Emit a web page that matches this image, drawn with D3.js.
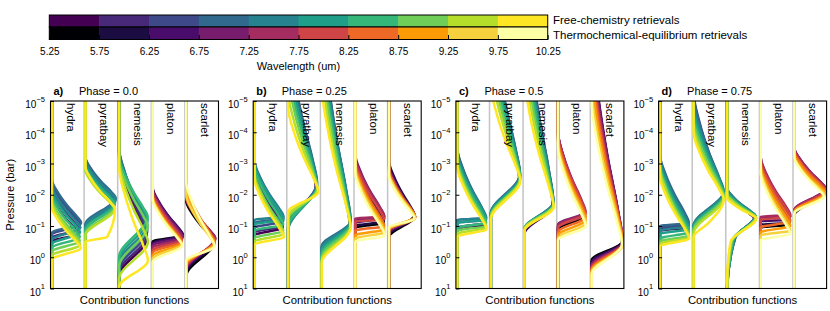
<!DOCTYPE html>
<html>
<head>
<meta charset="utf-8">
<script src="https://cdn.jsdelivr.net/npm/d3@7"></script>
<style>
  body { margin: 0; background: #fff; }
  text { font-family: "Liberation Sans", Arial, sans-serif; fill: #000; }
</style>
</head>
<body>
<div id="chart"></div>
<script>
/* Contribution functions, 4 phases x 5 retrieval codes */

const wavelengthTicks = [5.25, 5.75, 6.25, 6.75, 7.25, 7.75, 8.25, 8.75, 9.25, 9.75, 10.25];
const panelLetters = ["a)", "b)", "c)", "d)"];
const phaseLabels = ["Phase = 0.0", "Phase = 0.25", "Phase = 0.5", "Phase = 0.75"];
const codes = ["hydra", "pyratbay", "nemesis", "platon", "scarlet"];
const codeChemistry = ["free", "free", "free", "equilibrium", "equilibrium"];
const pressureTicks = [1e-5, 1e-4, 1e-3, 1e-2, 1e-1, 1, 10];

// one row per wavelength bin (5.5 ... 10.0 um):
// [log P where it leaves zero, log P of peak, peak height, log P where it is back to zero, (knee x, knee log P)]
const phase00 = [
  [ // hydra
    [-2.0, -0.75, 0.78, -0.5], [-2.2, -0.9, 0.8, -0.62], [-2.4, -1.05, 0.84, -0.72], [-2.5, -1.1, 0.87, -0.78],
    [-2.3, -0.95, 0.85, -0.55], [-2.15, -0.8, 0.84, -0.42], [-2.0, -0.65, 0.83, -0.3], [-1.85, -0.52, 0.83, -0.18],
    [-1.75, -0.4, 0.84, -0.05], [-1.6, -0.3, 0.86, 0.08]
  ],
  [ // pyratbay
    [-3.0, -1.75, 0.85, -0.9], [-3.1, -1.8, 0.86, -0.95], [-3.2, -1.85, 0.88, -1.0], [-3.2, -1.9, 0.9, -1.05],
    [-3.1, -1.85, 0.9, -1.0], [-3.0, -1.75, 0.88, -0.9], [-2.9, -1.7, 0.87, -0.85], [-2.8, -1.6, 0.86, -0.75],
    [-2.8, -1.55, 0.87, -0.7], [-2.9, -1.55, 0.88, -0.5, 0.65, -0.65]
  ],
  [ // nemesis
    [-3.3, -0.6, 0.82, 0.6], [-3.4, -0.7, 0.83, 0.5], [-3.5, -0.85, 0.84, 0.4], [-3.5, -0.95, 0.84, 0.3],
    [-3.4, -1.05, 0.84, 0.2], [-3.3, -1.2, 0.85, 0.1], [-3.2, -1.3, 0.85, 0.0], [-3.1, -1.0, 0.85, 0.3],
    [-3.0, -0.5, 0.86, 0.7], [-2.9, 0.1, 0.86, 0.95]
  ],
  [ // platon
    [-2.2, -0.7, 0.88, -0.5], [-2.2, -0.72, 0.9, -0.45], [-2.25, -0.7, 0.9, -0.42], [-2.2, -0.65, 0.9, -0.38],
    [-2.15, -0.6, 0.88, -0.3], [-2.1, -0.55, 0.87, -0.22], [-2.0, -0.5, 0.86, -0.15], [-1.95, -0.45, 0.86, -0.05],
    [-1.9, -0.42, 0.87, 0.05], [-1.85, -0.38, 0.88, 0.15]
  ],
  [ // scarlet
    [-1.8, -0.5, 0.84, 0.6], [-1.9, -0.55, 0.85, 0.5], [-2.0, -0.6, 0.86, 0.45], [-2.0, -0.62, 0.86, 0.4],
    [-1.95, -0.6, 0.86, 0.35], [-1.9, -0.55, 0.85, 0.3], [-2.3, -0.5, 0.84, 0.25], [-2.2, -0.45, 0.84, 0.2],
    [-2.0, -0.4, 0.84, 0.15], [-2.4, -0.35, 0.84, 0.1]
  ]
];

const phase025 = [
  [ // hydra
    [-2.8, -0.95, 0.84, -0.7], [-2.9, -1.0, 0.84, -0.8], [-3.0, -1.15, 0.85, -0.95], [-3.1, -1.25, 0.86, -1.1],
    [-3.05, -1.3, 0.86, -1.2], [-3.0, -1.2, 0.86, -1.05], [-2.9, -1.05, 0.85, -0.85], [-2.7, -0.85, 0.85, -0.6],
    [-2.6, -0.75, 0.86, -0.5], [-2.5, -0.65, 0.87, -0.4]
  ],
  [ // pyratbay
    [-7.0, -2.25, 0.82, -1.1], [-7.2, -2.3, 0.84, -1.0], [-7.3, -2.35, 0.85, -0.95], [-7.2, -2.4, 0.86, -0.9],
    [-6.9, -2.35, 0.86, -0.85], [-6.6, -2.3, 0.86, -0.9], [-6.2, -2.25, 0.86, -1.0], [-5.8, -2.2, 0.87, -1.2],
    [-5.3, -2.15, 0.88, -1.3], [-4.8, -2.1, 0.9, -1.45]
  ],
  [ // nemesis
    [-7.6, -1.0, 0.83, -0.1], [-7.7, -1.05, 0.84, -0.2], [-7.8, -1.1, 0.85, -0.3], [-7.7, -1.15, 0.86, -0.35],
    [-7.5, -1.15, 0.86, -0.3], [-7.2, -1.1, 0.85, -0.2], [-6.9, -1.05, 0.85, -0.1], [-6.5, -1.0, 0.85, 0.0],
    [-6.0, -0.95, 0.85, 0.1], [-5.5, -0.95, 0.86, 0.2]
  ],
  [ // platon
    [-3.0, -1.1, 0.84, -0.95], [-3.1, -1.15, 0.85, -1.0], [-3.2, -1.25, 0.86, -1.1], [-3.3, -1.3, 0.86, -1.2],
    [-3.2, -1.3, 0.86, -1.25], [-3.1, -1.2, 0.86, -1.15], [-3.0, -1.0, 0.86, -0.85], [-2.9, -0.9, 0.86, -0.7],
    [-2.8, -0.8, 0.87, -0.6], [-2.7, -0.7, 0.88, -0.5]
  ],
  [ // scarlet
    [-3.0, -1.3, 0.75, -0.65], [-3.1, -1.35, 0.76, -0.7], [-3.0, -1.3, 0.77, -0.75], [-2.9, -1.3, 0.77, -0.8],
    [-2.9, -1.3, 0.78, -0.82], [-2.8, -1.3, 0.78, -0.85], [-2.8, -1.3, 0.78, -0.88], [-2.7, -1.3, 0.78, -0.9],
    [-2.7, -1.25, 0.78, -0.9], [-2.6, -1.25, 0.76, -0.95]
  ]
];

const phase05 = [
  [ // hydra
    [-3.3, -1.05, 0.84, -0.85], [-3.4, -1.1, 0.84, -0.95], [-3.5, -1.2, 0.85, -1.1], [-3.5, -1.25, 0.86, -1.2],
    [-3.4, -1.25, 0.86, -1.2], [-3.3, -1.2, 0.86, -1.1], [-3.2, -1.1, 0.86, -0.95], [-3.1, -1.0, 0.86, -0.85],
    [-3.0, -0.95, 0.86, -0.75], [-2.9, -0.9, 0.87, -0.65]
  ],
  [ // pyratbay
    [-7.6, -2.55, 0.84, -1.25], [-7.9, -2.6, 0.85, -1.3], [-8.1, -2.65, 0.86, -1.35], [-8.0, -2.65, 0.87, -1.4],
    [-7.8, -2.6, 0.87, -1.4], [-7.4, -2.6, 0.87, -1.35], [-7.0, -2.55, 0.87, -1.3], [-6.6, -2.5, 0.87, -1.3],
    [-6.1, -2.5, 0.87, -1.25], [-5.5, -2.45, 0.88, -1.2]
  ],
  [ // nemesis
    [-8.0, -1.65, 0.84, -0.75], [-8.3, -1.7, 0.85, -0.8], [-8.5, -1.75, 0.86, -0.85], [-8.3, -1.75, 0.86, -0.9],
    [-8.0, -1.75, 0.86, -0.9], [-7.7, -1.7, 0.86, -0.9], [-7.3, -1.7, 0.86, -0.9], [-6.8, -1.65, 0.86, -0.9],
    [-6.3, -1.65, 0.86, -0.88], [-5.7, -1.6, 0.87, -0.85]
  ],
  [ // platon
    [-3.8, -1.3, 0.76, -0.9], [-3.9, -1.35, 0.77, -0.95], [-4.0, -1.4, 0.78, -1.0], [-4.0, -1.45, 0.8, -1.05],
    [-4.0, -1.45, 0.82, -1.0], [-3.9, -1.4, 0.82, -0.95], [-3.8, -1.3, 0.82, -0.8], [-3.7, -1.2, 0.82, -0.7],
    [-3.6, -1.1, 0.82, -0.6], [-3.5, -1.0, 0.82, -0.55]
  ],
  [ // scarlet
    [-7.0, -0.5, 0.9, 0.1], [-7.2, -0.5, 0.91, 0.15], [-7.3, -0.48, 0.92, 0.2], [-7.1, -0.47, 0.93, 0.25],
    [-6.8, -0.45, 0.93, 0.3], [-6.5, -0.45, 0.93, 0.35], [-6.2, -0.43, 0.93, 0.4], [-5.8, -0.42, 0.93, 0.45],
    [-5.4, -0.4, 0.92, 0.5], [-5.0, -0.4, 0.9, 0.55]
  ]
];

const phase075 = [
  [ // hydra
    [-3.0, -0.95, 0.83, -0.85], [-3.1, -1.0, 0.84, -0.9], [-3.2, -1.05, 0.85, -0.95], [-3.3, -1.1, 0.86, -1.0],
    [-3.2, -1.0, 0.86, -0.85], [-3.1, -0.9, 0.86, -0.75], [-3.0, -0.8, 0.86, -0.6], [-2.9, -0.7, 0.86, -0.5],
    [-2.8, -0.65, 0.86, -0.42], [-2.6, -0.6, 0.87, -0.35]
  ],
  [ // pyratbay
    [-5.0, -1.95, 0.86, -0.85], [-5.2, -2.0, 0.87, -0.9], [-5.3, -2.05, 0.88, -0.95], [-5.2, -2.1, 0.89, -1.0],
    [-5.0, -2.1, 0.9, -1.0], [-4.8, -2.05, 0.9, -0.95], [-4.6, -2.0, 0.9, -0.9], [-4.4, -1.95, 0.9, -0.85],
    [-4.2, -1.9, 0.9, -0.75], [-4.0, -1.85, 0.9, -0.65, 0.45, -1.1]
  ],
  [ // nemesis
    [-2.1, -1.25, 0.8, 0.9, 0.2, -0.6], [-2.1, -1.28, 0.82, 1.0, 0.22, -0.62], [-2.2, -1.3, 0.83, 1.1, 0.25, -0.65],
    [-2.2, -1.32, 0.84, 1.1, 0.25, -0.65], [-2.2, -1.32, 0.85, 1.2, 0.22, -0.6], [-2.1, -1.3, 0.85, 1.2, 0.2, -0.6],
    [-2.1, -1.3, 0.85, 1.1, 0.18, -0.55], [-2.0, -1.28, 0.86, 1.0, 0.15, -0.55], [-2.0, -1.27, 0.86, 0.9, 0.12, -0.5],
    [-1.9, -1.25, 0.87, 0.8, 0.1, -0.5]
  ],
  [ // platon
    [-2.9, -1.05, 0.86, -0.95], [-3.0, -1.1, 0.86, -1.05], [-3.1, -1.2, 0.87, -1.15], [-3.2, -1.3, 0.88, -1.25],
    [-3.2, -1.35, 0.88, -1.3], [-3.1, -1.3, 0.88, -1.2], [-3.0, -1.15, 0.88, -0.95], [-2.9, -1.0, 0.88, -0.8],
    [-2.8, -0.85, 0.88, -0.7], [-2.7, -0.75, 0.88, -0.55]
  ],
  [ // scarlet
    [-3.3, -2.1, 0.9, -1.35], [-3.4, -2.15, 0.91, -1.4], [-3.5, -2.2, 0.92, -1.45], [-3.5, -2.2, 0.93, -1.5],
    [-3.5, -2.2, 0.93, -1.5], [-3.4, -2.15, 0.93, -1.45], [-3.4, -2.1, 0.93, -1.45], [-3.3, -2.05, 0.92, -1.45],
    [-3.2, -2.0, 0.9, -1.4], [-3.2, -1.95, 0.88, -1.4]
  ]
];

const phases = [phase00, phase025, phase05, phase075];

const width = 830, height = 311;

const svg = d3.select("#chart")
  .append("svg")
  .attr("width", width)
  .attr("height", height);

/* colour bars */
const cbX = d3.scaleLinear().domain([5.25, 10.25]).range([49.3, 547.7]);
const cbRows = [
  { cmap: d3.interpolateViridis, y: 15, h: 12, label: "Free-chemistry retrievals", ly: 24 },
  { cmap: d3.interpolateInferno, y: 27, h: 12.5, label: "Thermochemical-equilibrium retrievals", ly: 38.5 }
];

cbRows.forEach(row => {
  svg.append("g").selectAll("rect")
    .data(d3.range(10))
    .join("rect")
    .attr("x", i => cbX(wavelengthTicks[i]))
    .attr("y", row.y)
    .attr("width", i => cbX(wavelengthTicks[i + 1]) - cbX(wavelengthTicks[i]) + 0.5)
    .attr("height", row.h)
    .attr("fill", i => row.cmap(i / 9));
  svg.append("rect")
    .attr("x", cbX(5.25)).attr("y", row.y)
    .attr("width", cbX(10.25) - cbX(5.25)).attr("height", row.h)
    .attr("fill", "none").attr("stroke", "#000").attr("stroke-width", 1);
  svg.append("text")
    .attr("x", 553).attr("y", row.ly)
    .style("font-size", "11.5px")
    .text(row.label);
});

const cbAxis = svg.append("g")
  .attr("transform", "translate(0,39.5)")
  .call(d3.axisBottom(cbX).tickValues(wavelengthTicks).tickSizeInner(-4.5).tickSizeOuter(0)
    .tickPadding(8.5).tickFormat(d3.format(".2f")));
cbAxis.select(".domain").remove();
cbAxis.selectAll("text").attr("font-family", null).style("font-size", "10px");

svg.append("text")
  .attr("x", (cbX(5.25) + cbX(10.25)) / 2)
  .attr("y", 70)
  .attr("text-anchor", "middle")
  .style("font-size", "11px")
  .text("Wavelength (um)");

/* panels */
const plotTop = 101, plotBottom = 288.5, plotW = 168;

phases.forEach((columns, p) => {
  const left = 50.5 + p * 202.7;
  const x = d3.scaleLinear().domain([0, 5]).range([left, left + plotW]);
  const y = d3.scaleLog().domain([1e-5, 10]).range([plotTop, plotBottom]);

  const g = svg.append("g");
  const clipId = "clip" + p;
  g.append("clipPath").attr("id", clipId)
    .append("rect")
    .attr("x", left).attr("y", plotTop)
    .attr("width", plotW).attr("height", plotBottom - plotTop);

  const plot = g.append("g").attr("clip-path", `url(#${clipId})`);

  // grey zero lines between codes
  plot.selectAll("line.sep")
    .data([1, 2, 3, 4])
    .join("line")
    .attr("x1", d => x(d)).attr("x2", d => x(d))
    .attr("y1", plotTop).attr("y2", plotBottom)
    .attr("stroke", "#c4c4c4")
    .attr("stroke-width", 1.5);

  columns.forEach((rows, k) => {
    const cmap = codeChemistry[k] === "free" ? d3.interpolateViridis : d3.interpolateInferno;
    const line = d3.line()
      .x(d => x(k + 0.04 + d[0]))
      .y(d => y(Math.pow(10, d[1])))
      .curve(d3.curveMonotoneY);

    rows.forEach((r, i) => {
      const [top, peak, amp, back] = r;
      const dp = peak - top;
      let pts = [[0, top], [0.2 * amp, top + 0.3 * dp], [0.52 * amp, top + 0.6 * dp],
                 [0.85 * amp, top + 0.85 * dp], [amp, peak]];
      if (r.length > 4) pts.push([r[4], r[5]]);
      pts.push([0, back], [0, 1.6]);
      if (top > -5.6) pts.unshift([0, -5.6]);
      plot.append("path")
        .attr("d", line(pts))
        .attr("fill", "none")
        .attr("stroke", cmap(i / 9))
        .attr("stroke-width", 2.5)
        .attr("stroke-linejoin", "round");
    });
  });

  // code names
  g.selectAll("text.code")
    .data(codes)
    .join("text")
    .attr("transform", (d, k) => `translate(${x(k) + 16},${plotTop + 2}) rotate(90)`)
    .style("font-size", "11.5px")
    .text(d => d);

  // frame
  g.append("rect")
    .attr("x", left).attr("y", plotTop)
    .attr("width", plotW).attr("height", plotBottom - plotTop)
    .attr("fill", "none").attr("stroke", "#000").attr("stroke-width", 1.1);

  // y ticks
  const yAxis = g.append("g")
    .attr("transform", `translate(${left},0)`)
    .call(d3.axisLeft(y).tickValues(pressureTicks).tickSizeInner(-3.5).tickSizeOuter(0).tickFormat(""));
  yAxis.select(".domain").remove();
  yAxis.selectAll("text").remove();

  pressureTicks.forEach(t => {
    const e = Math.round(Math.log10(t));
    const lab = g.append("text")
      .attr("x", left - 5.5)
      .attr("y", y(t) + 7)
      .attr("text-anchor", "end")
      .style("font-size", "10px");
    lab.append("tspan").text("10");
    lab.append("tspan")
      .attr("dy", -6.5)
      .style("font-size", "7.5px")
      .text(e < 0 ? "\u2212" + (-e) : String(e));
  });

  // titles
  g.append("text")
    .attr("x", left + 3).attr("y", 94.5)
    .style("font-size", "11px").style("font-weight", "bold")
    .text(panelLetters[p]);
  g.append("text")
    .attr("x", left + 28.5).attr("y", 94.5)
    .style("font-size", "11px")
    .text(phaseLabels[p]);

  g.append("text")
    .attr("x", left + plotW / 2).attr("y", 304)
    .attr("text-anchor", "middle")
    .style("font-size", "11.3px")
    .text("Contribution functions");

  if (p === 0) {
    g.append("text")
      .attr("transform", `translate(13.5,${(plotTop + plotBottom) / 2}) rotate(-90)`)
      .attr("text-anchor", "middle")
      .style("font-size", "11.3px")
      .text("Pressure (bar)");
  }
});
</script>
</body>
</html>
